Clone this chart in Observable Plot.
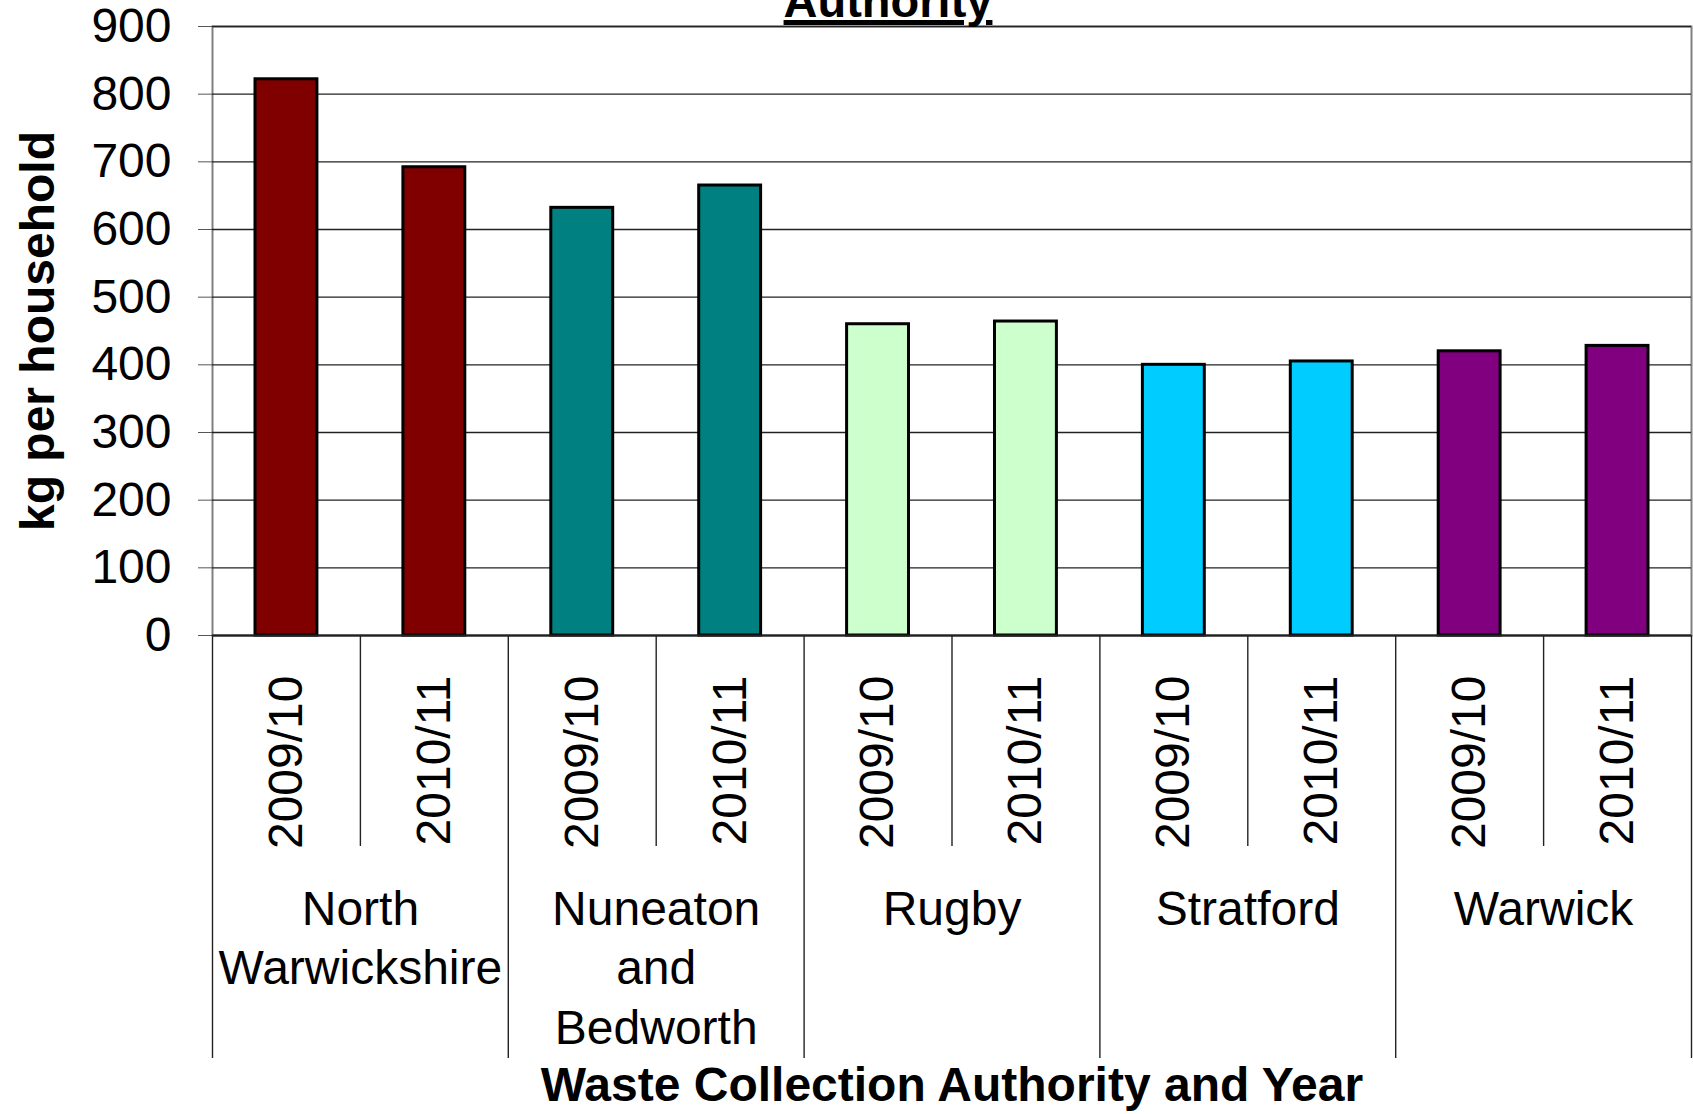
<!DOCTYPE html>
<html>
<head>
<meta charset="utf-8">
<script src="https://cdn.jsdelivr.net/npm/d3@7"></script>
<script src="https://cdn.jsdelivr.net/npm/@observablehq/plot@0.6"></script>
<style>
  html, body { margin: 0; padding: 0; background: #fff; overflow: hidden; }
  #wrap { position: relative; width: 1693px; height: 1114px; font-family: "Liberation Sans", Arial, sans-serif; }
  #title { position: absolute; left: 0; width: 1776px; top: -23px; text-align: center; font-size: 47px; line-height: 47px; font-weight: bold; color: #000;
    text-decoration: underline; text-decoration-thickness: 5px; text-underline-offset: 3px; z-index: 2; }
</style>
</head>
<body>
<div id="wrap"><div id="title">Authority</div></div>
<script>
const authorities = ["North Warwickshire", "Nuneaton and Bedworth", "Rugby", "Stratford", "Warwick"];
const groupLabels = ["North\nWarwickshire", "Nuneaton\nand\nBedworth", "Rugby", "Stratford", "Warwick"];
const years = ["2009/10", "2010/11"];
const values2009 = [822, 632, 460, 400, 420];
const values2010 = [692, 665, 464, 405, 428];
const barColors = ["#800000", "#008080", "#CCFFCC", "#00CCFF", "#800080"];
const yTicks = [0, 100, 200, 300, 400, 500, 600, 700, 800, 900];
const yTitle = "kg per household";
const xTitle = "Waste Collection Authority and Year";

const seriesValues = [values2009, values2010];
const data = [];
authorities.forEach((a, g) => {
  years.forEach((yr, k) => {
    data.push({i: g * years.length + k, g, authority: a, year: yr, value: seriesValues[k][g], color: barColors[g]});
  });
});
const groups = authorities.map((a, g) => ({g, label: groupLabels[g], start: g * years.length, end: (g + 1) * years.length}));
const boundaries = d3.range(0, data.length + 1);
const groupBounds = boundaries.filter(b => b % years.length === 0);
const innerBounds = boundaries.filter(b => b % years.length !== 0);

const W = 1693, H = 1114;
const mTop = 26, mBottom = 479, mLeft = 212, mRight = 2;
const frameH = H - mTop - mBottom;
const FS = 48;

const chart = Plot.plot({
  width: W,
  height: H,
  marginTop: mTop,
  marginBottom: mBottom,
  marginLeft: mLeft,
  marginRight: mRight,
  style: {fontFamily: "'Liberation Sans', Arial, sans-serif", color: "#000", background: "#fff", overflow: "visible"},
  x: {type: "linear", domain: [0, data.length], axis: null},
  y: {domain: [0, 900], axis: null},
  color: {type: "identity"},
  marks: [
    Plot.frame({stroke: "#808080", strokeWidth: 2}),
    Plot.ruleY(yTicks, {stroke: "#222", strokeWidth: 1.4}),
    Plot.axisY({ticks: yTicks, tickSize: 14, tickPadding: 27, fontSize: FS, label: null, stroke: "#555"}),
    Plot.rectY(data, {x1: "i", x2: d => d.i + 1, y: "value", fill: "color", stroke: "#000", strokeWidth: 3, insetLeft: 43, insetRight: 43}),
    Plot.ruleY([0], {stroke: "#222", strokeWidth: 2}),
    Plot.ruleX(innerBounds, {x: d => d, stroke: "#222", strokeWidth: 1.4, insetTop: frameH, insetBottom: -211}),
    Plot.ruleX(groupBounds, {x: d => d, stroke: "#222", strokeWidth: 1.4, insetTop: frameH, insetBottom: -423}),
    Plot.text(data, {x: d => d.i + 0.5, text: "year", frameAnchor: "bottom", dy: 40, rotate: -90, textAnchor: "end", lineAnchor: "middle", fontSize: FS, fill: "#000"}),
    Plot.text(groups, {x: d => (d.start + d.end) / 2, text: "label", frameAnchor: "bottom", dy: 247, lineAnchor: "top", lineHeight: 1.24, fontSize: FS, fill: "#000"}),
    Plot.text([yTitle], {text: d => d, frameAnchor: "left", dx: -174, rotate: -90, textAnchor: "middle", lineAnchor: "middle", fontSize: FS, fontWeight: "bold", fill: "#000"}),
    Plot.text([xTitle], {text: d => d, frameAnchor: "bottom", dy: 450, textAnchor: "middle", lineAnchor: "middle", fontSize: FS, fontWeight: "bold", fill: "#000"})
  ]
});
document.getElementById("wrap").prepend(chart);
</script>
</body>
</html>
